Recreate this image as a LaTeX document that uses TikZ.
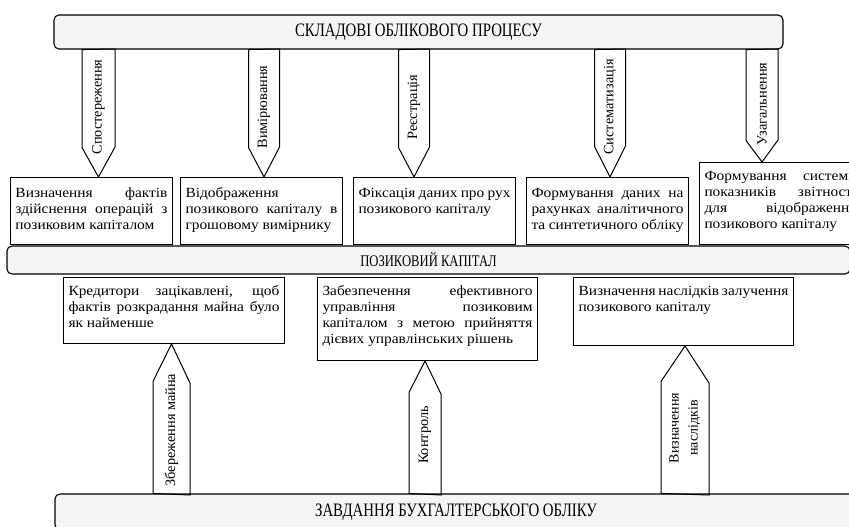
\documentclass[tikz,border=0pt]{standalone}
\usepackage{fontspec}
\setmainfont{Liberation Serif}
\newfontfamily\barfont[FakeStretch=0.78]{Liberation Serif}
\newfontfamily\boxfont[FakeStretch=1.1]{Liberation Serif}
\usepackage{tikz}
\usetikzlibrary{positioning,calc}
\hyphenpenalty=10000
\exhyphenpenalty=10000
\tolerance=10000

\begin{document}
\begin{tikzpicture}[
    x=1pt, y=-1pt,
    bar/.style={draw, line width=1.1pt, rounded corners=5pt, fill=gray!8, font=\barfont\fontsize{19}{21}\selectfont},
    descbox/.style={draw, line width=1pt, fill=white, anchor=north west, align=justify, text width=152pt, inner xsep=5pt, inner ysep=5pt, text height=15pt, font=\boxfont\fontsize{14}{16}\selectfont},
    goalbox/.style={descbox, text width=210pt, text height=13pt},
    tag/.style={draw, line width=1pt},
    tagtext/.style={rotate=90, font=\fontsize{14.3}{15}\selectfont, inner sep=0pt},
]
\useasboundingbox (0,0) rectangle (849,527);
\clip (0,0) rectangle (849,527);
\fill[white] (0,0) rectangle (849,527);

% three bars
\node[bar, minimum width=729pt, minimum height=34pt] (process) at (418.5,32) {СКЛАДОВІ ОБЛІКОВОГО ПРОЦЕСУ};
\node[bar, minimum width=843pt, minimum height=28pt, font=\barfont\fontsize{16.2}{18}\selectfont] (capital) at (428.5,260) {ПОЗИКОВИЙ КАПІТАЛ};
\node[bar, minimum width=802pt, minimum height=36pt] (tasks) at (456,512) {ЗАВДАННЯ БУХГАЛТЕРСЬКОГО ОБЛІКУ};

% upper row
\node[descbox, text depth=42pt] (desc1) at (10,177) {Визначення фактів здійснення операцій з позиковим капіталом};
\node[descbox, text depth=42pt] (desc2) at (180,177) {Відображення позикового капіталу в грошовому вимірнику};
\node[descbox, text depth=42pt] (desc3) at (353,177) {Фіксація даних про рух позикового капіталу};
\node[descbox, text depth=42pt] (desc4) at (526,177) {Формування даних на рахунках аналітичного та синтетичного обліку};
\node[descbox, text height=13pt, text depth=59pt] (desc5) at (699,162) {Формування системи показників звітності для відображення позикового капіталу};

% lower row
\node[goalbox, text width=211pt, text depth=43pt] (goal1) at (63,277) {Кредитори зацікавлені, щоб фактів розкрадання майна було як найменше};
\node[goalbox, text depth=60pt] (goal2) at (317,277) {Забезпечення ефективного управління позиковим капіталом з метою прийняття дієвих управлінських рішень};
\node[goalbox, text depth=45pt] (goal3) at (573,277) {Визначення наслідків залучення позикового капіталу};

% stages of the process
\node[tagtext] (observe) at (98.5,107) {Спостереження};
\node[tagtext] (measure) at (264,107) {Вимірювання};
\node[tagtext] (register) at (414,107) {Реєстрація};
\node[tagtext] (systemize) at (610,107) {Систематизація};
\node[tagtext] (summarize) at (762,104) {Узагальнення};
\draw[tag] (observe |- process.south) ++(-16.5,0) -- ++(0,98) -- (observe |- desc1.north) -- ++(16.5,-30) -- ++(0,-98) -- cycle;
\draw[tag] (measure |- process.south) ++(-15.5,0) -- ++(0,98) -- (measure |- desc2.north) -- ++(15.5,-30) -- ++(0,-98) -- cycle;
\draw[tag] (register |- process.south) ++(-15.5,0) -- ++(0,98) -- (register |- desc3.north) -- ++(15.5,-30) -- ++(0,-98) -- cycle;
\draw[tag] (systemize |- process.south) ++(-15.5,0) -- ++(0,97) -- (systemize |- desc4.north) -- ++(15.5,-31) -- ++(0,-97) -- cycle;
\draw[tag] (summarize |- process.south) ++(-16,0) -- ++(0,91) -- (summarize |- desc5.north) -- ++(16,-22) -- ++(0,-91) -- cycle;

% tasks
\node[tagtext] (keep) at (171.5,430) {Збереження майна};
\node[tagtext] (control) at (425,435) {Контроль};
\node[tagtext, align=center, font=\fontsize{14}{19}\selectfont] (effects) at (685,428) {Визначення\\наслідків};
\draw[tag] (keep |- tasks.north) ++(-18.5,0) -- ++(0,-112) -- (keep |- goal1.south) -- ++(18.5,39) -- ++(0,112) -- cycle;
\draw[tag] (control |- tasks.north) ++(-16,0) -- ++(0,-101) -- (control |- goal2.south) -- ++(16,33) -- ++(0,101) -- cycle;
\draw[tag] (effects |- tasks.north) ++(-24,0) -- ++(0,-112) -- (effects |- goal3.south) -- ++(24,37) -- ++(0,112) -- cycle;
\end{tikzpicture}
\end{document}
